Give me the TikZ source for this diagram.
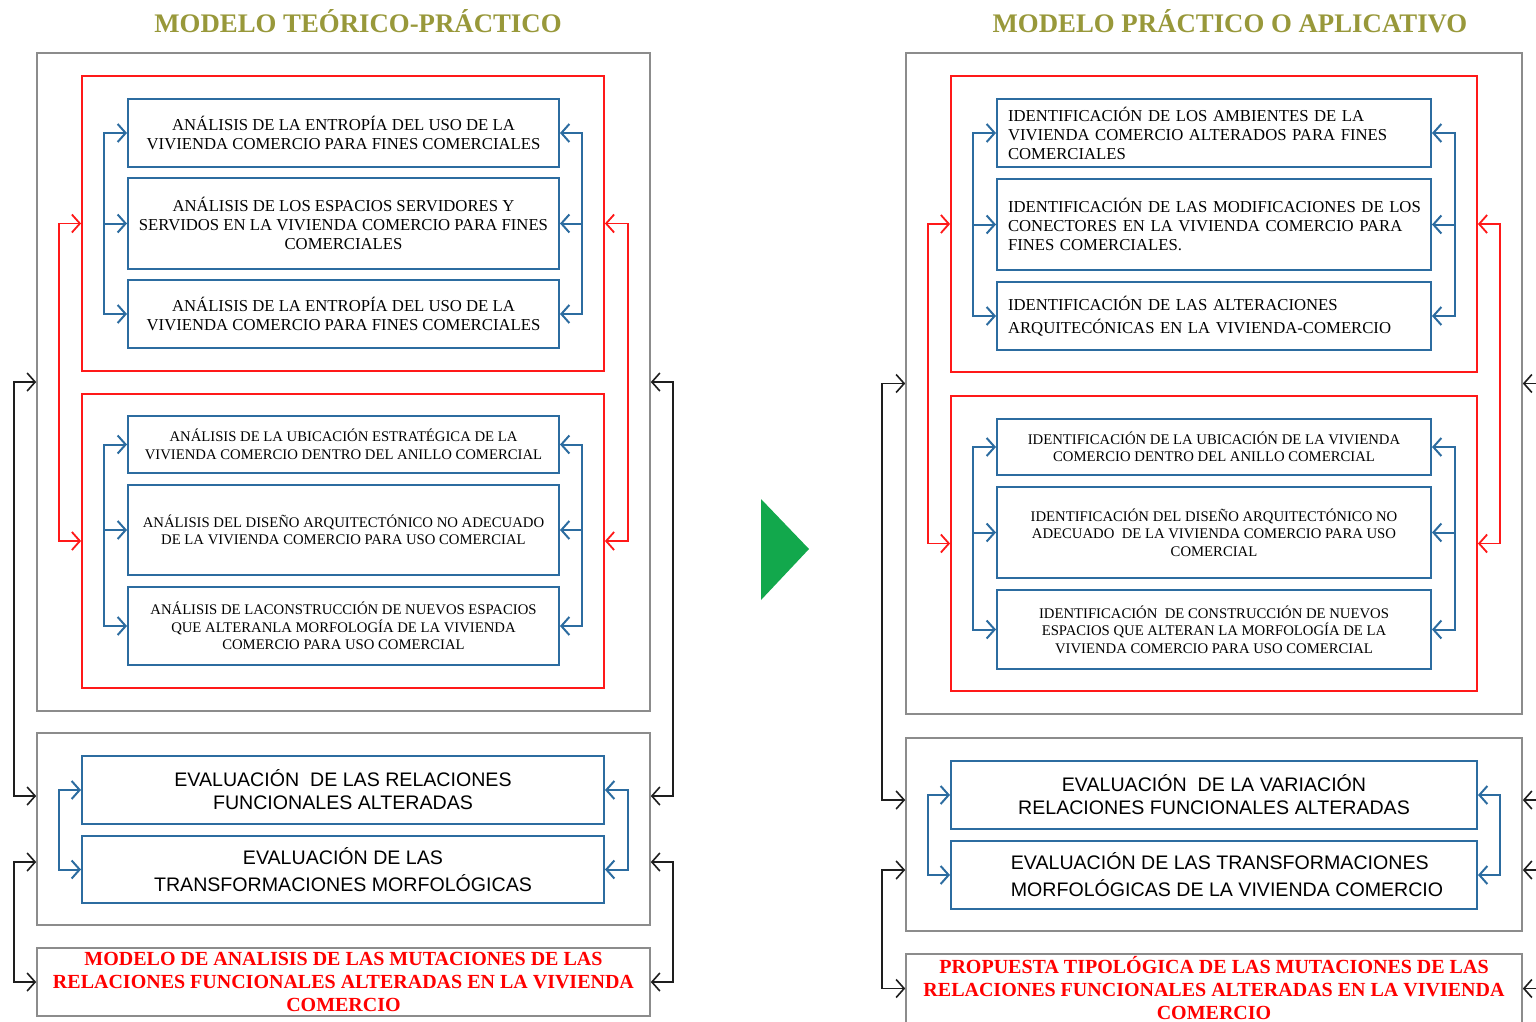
\documentclass[tikz,border=0pt]{standalone}
\usepackage{fontspec}
\setmainfont{Liberation Serif}
\newfontfamily\evalsans{Liberation Sans}
\usetikzlibrary{arrows.meta,calc}

\definecolor{ttlolive}{RGB}{152,152,58}
\definecolor{framegray}{RGB}{140,140,140}
\definecolor{grpred}{RGB}{255,25,25}
\definecolor{itemblue}{RGB}{44,108,160}
\definecolor{linkblack}{RGB}{30,30,30}
\definecolor{flowgreen}{RGB}{18,168,76}

\tikzset{
  ttl/.style={text=ttlolive, font=\bfseries\fontsize{26.8}{30}\selectfont, inner sep=0pt},
  frame/.style={draw=framegray, line width=1.6pt, inner sep=0pt},
  grpbox/.style={draw=grpred, line width=1.8pt, inner sep=0pt},
  itembox/.style={draw=itemblue, line width=2pt, inner sep=0pt, align=center,
    font=\fontsize{16.7}{19}\selectfont},
  smallitem/.style={itembox, font=\fontsize{14.7}{17.5}\selectfont},
  leftitem/.style={itembox, align=left, text width=412pt, inner xsep=11pt,
    font=\fontsize{16.7}{19}\selectfont},
  evalbox/.style={draw=itemblue, line width=2pt, inner sep=0pt, align=center,
    font=\evalsans\fontsize{19.6}{23}\selectfont},
  resultbox/.style={draw=framegray, line width=1.6pt, inner sep=0pt, align=center,
    text=red, font=\bfseries\fontsize{20}{23}\selectfont},
  bluelink/.style={draw=itemblue, line width=2pt},
  redlink/.style={draw=grpred, line width=1.8pt},
  blacklink/.style={draw=linkblack, line width=1.6pt},
}

\begin{document}
\begin{tikzpicture}[x=1pt, y=-1pt, >={Straight Barb[length=8pt,width=18pt]}]
\useasboundingbox (0,0) rectangle (1536,1021);
\clip (0,0) rectangle (1536,1021);

% ---------------- theoretical-practical model ----------------
\node[ttl] (T1) at (358,21) {MODELO TEÓRICO-PRÁCTICO};

\node[frame, minimum width=613, minimum height=658] (G1) at (343.5,382) {};
\node[grpbox, minimum width=522, minimum height=295] (R1) at (343,223.5) {};
\node[itembox, minimum width=431, minimum height=68] (B1) at (343.5,133)
  {ANÁLISIS DE LA ENTROPÍA DEL USO DE LA\\VIVIENDA COMERCIO PARA FINES COMERCIALES};
\node[itembox, minimum width=431, minimum height=91] (B2) at (343.5,223.5)
  {ANÁLISIS DE LOS ESPACIOS SERVIDORES Y\\SERVIDOS EN LA VIVIENDA COMERCIO PARA FINES\\COMERCIALES};
\node[itembox, minimum width=431, minimum height=68] (B3) at (343.5,314)
  {ANÁLISIS DE LA ENTROPÍA DEL USO DE LA\\VIVIENDA COMERCIO PARA FINES COMERCIALES};

\node[grpbox, minimum width=522, minimum height=294] (R2) at (343,541) {};
\node[smallitem, minimum width=431, minimum height=57] (B4) at (343.5,444.5)
  {ANÁLISIS DE LA UBICACIÓN ESTRATÉGICA DE LA\\VIVIENDA COMERCIO DENTRO DEL ANILLO COMERCIAL};
\node[smallitem, minimum width=431, minimum height=90] (B5) at (343.5,530)
  {ANÁLISIS DEL DISEÑO ARQUITECTÓNICO NO ADECUADO\\DE LA VIVIENDA COMERCIO PARA USO COMERCIAL};
\node[smallitem, minimum width=431, minimum height=78] (B6) at (343.5,626)
  {ANÁLISIS DE LACONSTRUCCIÓN DE NUEVOS ESPACIOS\\QUE ALTERANLA MORFOLOGÍA DE LA VIVIENDA\\COMERCIO PARA USO COMERCIAL};

\node[frame, minimum width=613, minimum height=192] (G2) at (343.5,829) {};
\node[evalbox, minimum width=522, minimum height=68] (E1) at (343,790)
  {EVALUACIÓN~ DE LAS RELACIONES\\FUNCIONALES ALTERADAS};
\node[evalbox, minimum width=522, minimum height=67, font=\evalsans\fontsize{19.6}{27}\selectfont] (E2) at (343,869.5)
  {EVALUACIÓN DE LAS\\TRANSFORMACIONES MORFOLÓGICAS};

\node[resultbox, minimum width=613, minimum height=68] (BT) at (343.5,982)
  {MODELO DE ANALISIS DE LAS MUTACIONES DE LAS\\RELACIONES FUNCIONALES ALTERADAS EN LA VIVIENDA\\COMERCIO};

% links inside the first group
\draw[bluelink,<->] (B1.west) -- ++(-23,0) |- (B3.west);
\draw[bluelink,->] ($(B2.west)+(-23,0)$) -- (B2.west);
\draw[bluelink,<->] (B1.east) -- ++(22,0) |- (B3.east);
\draw[bluelink,->] ($(B2.east)+(22,0)$) -- (B2.east);
% links inside the second group
\draw[bluelink,<->] (B4.west) -- ++(-23,0) |- (B6.west);
\draw[bluelink,->] ($(B5.west)+(-23,0)$) -- (B5.west);
\draw[bluelink,<->] (B4.east) -- ++(22,0) |- (B6.east);
\draw[bluelink,->] ($(B5.east)+(22,0)$) -- (B5.east);
% links between the two groups
\draw[redlink,<->] (R1.west) -- ++(-22,0) |- (R2.west);
\draw[redlink,<->] (R1.east) -- ++(23,0) |- (R2.east);
% evaluation links
\draw[bluelink,<->] (E1.west) -- ++(-22,0) |- (E2.west);
\draw[bluelink,<->] (E1.east) -- ++(23,0) |- (E2.east);
% links between the stages
\coordinate (G2wa) at ($(G2.west)+(0,-33)$);
\coordinate (G2wb) at ($(G2.west)+(0,33)$);
\coordinate (G2ea) at ($(G2.east)+(0,-33)$);
\coordinate (G2eb) at ($(G2.east)+(0,33)$);
\draw[blacklink,<->] (G1.west) -- ++(-22,0) |- (G2wa);
\draw[blacklink,<->] (G2wb) -- ++(-22,0) |- (BT.west);
\draw[blacklink,<->] (G1.east) -- ++(22,0) |- (G2ea);
\draw[blacklink,<->] (G2eb) -- ++(22,0) |- (BT.east);

% ---------------- transition arrow ----------------
\fill[flowgreen] (761,499) -- (761,600) -- (809,549) -- cycle;

% ---------------- practical / applied model ----------------
\node[ttl] (T2) at (1230,21) {MODELO PRÁCTICO O APLICATIVO};

\node[frame, minimum width=616, minimum height=661] (G3) at (1214,383.5) {};
\node[grpbox, minimum width=526, minimum height=296] (R3) at (1214,224) {};
\node[leftitem, minimum width=434, minimum height=68] (B7) at (1214,133)
  {\mbox{IDENTIFICACIÓN DE LOS AMBIENTES DE LA}\\\mbox{VIVIENDA COMERCIO ALTERADOS PARA FINES}\\\mbox{COMERCIALES}};
\node[leftitem, minimum width=434, minimum height=91] (B8) at (1214,224.5)
  {\mbox{IDENTIFICACIÓN DE LAS MODIFICACIONES DE LOS}\\\mbox{CONECTORES EN LA VIVIENDA COMERCIO PARA}\\\mbox{FINES COMERCIALES.}};
\node[leftitem, minimum width=434, minimum height=68, font=\fontsize{16.7}{23}\selectfont] (B9) at (1214,316)
  {\mbox{IDENTIFICACIÓN DE LAS ALTERACIONES}\\\mbox{ARQUITECÓNICAS EN LA VIVIENDA-COMERCIO}};

\node[grpbox, minimum width=526, minimum height=295] (R4) at (1214,543.5) {};
\node[smallitem, minimum width=434, minimum height=56] (B10) at (1214,447)
  {IDENTIFICACIÓN DE LA UBICACIÓN DE LA VIVIENDA\\COMERCIO DENTRO DEL ANILLO COMERCIAL};
\node[smallitem, minimum width=434, minimum height=91] (B11) at (1214,532.5)
  {IDENTIFICACIÓN DEL DISEÑO ARQUITECTÓNICO NO\\ADECUADO~ DE LA VIVIENDA COMERCIO PARA USO\\COMERCIAL};
\node[smallitem, minimum width=434, minimum height=79] (B12) at (1214,629.5)
  {IDENTIFICACIÓN~ DE CONSTRUCCIÓN DE NUEVOS\\ESPACIOS QUE ALTERAN LA MORFOLOGÍA DE LA\\VIVIENDA COMERCIO PARA USO COMERCIAL};

\node[frame, minimum width=616, minimum height=193] (G4) at (1214,834.5) {};
\node[evalbox, minimum width=526, minimum height=68] (E3) at (1214,795)
  {EVALUACIÓN~ DE LA VARIACIÓN\\RELACIONES FUNCIONALES ALTERADAS};
\node[evalbox, minimum width=526, minimum height=68, align=left, font=\evalsans\fontsize{19.6}{27}\selectfont] (E4) at (1214,875)
  {\hspace*{26pt}EVALUACIÓN DE LAS TRANSFORMACIONES\\\hspace*{26pt}MORFOLÓGICAS DE LA VIVIENDA COMERCIO};

\node[resultbox, minimum width=616, minimum height=69] (BT2) at (1214,988.5)
  {PROPUESTA TIPOLÓGICA DE LAS MUTACIONES DE LAS\\RELACIONES FUNCIONALES ALTERADAS EN LA VIVIENDA\\COMERCIO};

% links inside the first group
\draw[bluelink,<->] (B7.west) -- ++(-23,0) |- (B9.west);
\draw[bluelink,->] ($(B8.west)+(-23,0)$) -- (B8.west);
\draw[bluelink,<->] (B7.east) -- ++(23,0) |- (B9.east);
\draw[bluelink,->] ($(B8.east)+(23,0)$) -- (B8.east);
% links inside the second group
\draw[bluelink,<->] (B10.west) -- ++(-23,0) |- (B12.west);
\draw[bluelink,->] ($(B11.west)+(-23,0)$) -- (B11.west);
\draw[bluelink,<->] (B10.east) -- ++(23,0) |- (B12.east);
\draw[bluelink,->] ($(B11.east)+(23,0)$) -- (B11.east);
% links between the two groups
\draw[redlink,<->] (R3.west) -- ++(-22,0) |- (R4.west);
\draw[redlink,<->] (R3.east) -- ++(22,0) |- (R4.east);
% evaluation links
\draw[bluelink,<->] (E3.west) -- ++(-22,0) |- (E4.west);
\draw[bluelink,<->] (E3.east) -- ++(22,0) |- (E4.east);
% links between the stages
\coordinate (G4wa) at ($(G4.west)+(0,-34.5)$);
\coordinate (G4wb) at ($(G4.west)+(0,35.5)$);
\coordinate (G4ea) at ($(G4.east)+(0,-34.5)$);
\coordinate (G4eb) at ($(G4.east)+(0,35.5)$);
\draw[blacklink,<->] (G3.west) -- ++(-23,0) |- (G4wa);
\draw[blacklink,<->] (G4wb) -- ++(-23,0) |- (BT2.west);
\draw[blacklink,<->] (G3.east) -- ++(23,0) |- (G4ea);
\draw[blacklink,<->] (G4eb) -- ++(23,0) |- (BT2.east);
\end{tikzpicture}
\end{document}
